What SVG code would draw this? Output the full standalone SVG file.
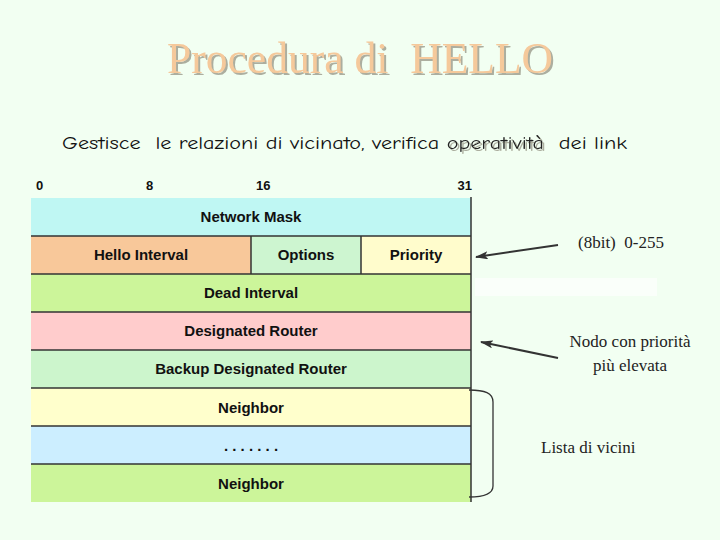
<svg xmlns="http://www.w3.org/2000/svg" width="720" height="540" viewBox="0 0 720 540">
<style>
text{white-space:pre}
.f{font-family:"Liberation Sans",Arial,sans-serif;font-weight:bold;font-size:15px;fill:#111;text-anchor:middle}
.b{font-family:"Liberation Sans",Arial,sans-serif;font-weight:bold;font-size:13px;fill:#111}
.s{font-family:"Liberation Serif","Times New Roman",serif;font-size:17px;fill:#222}
.row{stroke:none}
.sep{stroke:#333;stroke-width:1.5}
.con{stroke:#333;stroke-width:2;fill:none}
</style>
<defs>
<marker id="ah" markerWidth="13" markerHeight="8" refX="12" refY="4" orient="auto" markerUnits="userSpaceOnUse">
<path d="M0,0 L13,4 L0,8 L3,4 Z" fill="#333"/>
</marker>
<filter id="sh" x="-5%" y="-20%" width="110%" height="140%">
<feDropShadow dx="2" dy="2" stdDeviation="0.6" flood-color="#9a9a8a" flood-opacity="0.8"/>
</filter>
</defs>
<rect x="0" y="0" width="720" height="540" fill="#f2fff2"/>
<rect x="475" y="278" width="182" height="18" fill="#ffffff" opacity="0.6"/>
<g id="title">
<text x="167" y="73" textLength="386" lengthAdjust="spacingAndGlyphs" font-family="Liberation Serif,'Times New Roman',serif" font-size="45" fill="#f5c99b" filter="url(#sh)" xml:space="preserve">Procedura di  HELLO</text>
</g>
<g id="subtitle" font-family="'Comic Neue','DejaVu Sans',sans-serif" font-size="17" fill="#111">
<text x="62" y="149" textLength="565" lengthAdjust="spacingAndGlyphs" xml:space="preserve">Gestisce  le relazioni di vicinato, verifica <tspan fill="#222" filter="url(#sh)">operatività</tspan>  dei link</text>
</g>
<g id="bits">
<text class="b" x="36" y="190">0</text>
<text class="b" x="146" y="190">8</text>
<text class="b" x="256" y="190">16</text>
<text class="b" x="472" y="190" text-anchor="end">31</text>
</g>
<g id="network-mask"><rect class="row" x="31" y="198" width="440" height="38" fill="#bff7f3"/><text class="f" x="251" y="222">Network Mask</text></g>
<g id="hello-interval"><rect class="row" x="31" y="236" width="220" height="38" fill="#f8c89a"/><text class="f" x="141" y="260">Hello Interval</text></g>
<g id="options"><rect class="row" x="251" y="236" width="110" height="38" fill="#cdf5d0"/><text class="f" x="306" y="260">Options</text></g>
<g id="priority"><rect class="row" x="361" y="236" width="110" height="38" fill="#fffccc"/><text class="f" x="416" y="260">Priority</text></g>
<g id="dead-interval"><rect class="row" x="31" y="274" width="440" height="38" fill="#ccf59a"/><text class="f" x="251" y="298">Dead Interval</text></g>
<g id="designated-router"><rect class="row" x="31" y="312" width="440" height="38" fill="#ffcccc"/><text class="f" x="251" y="336">Designated Router</text></g>
<g id="backup-dr"><rect class="row" x="31" y="350" width="440" height="38" fill="#ccf5cc"/><text class="f" x="251" y="374">Backup Designated Router</text></g>
<g id="neighbor1"><rect class="row" x="31" y="388" width="440" height="38" fill="#ffffcc"/><text class="f" x="251" y="413">Neighbor</text></g>
<g id="dots"><rect class="row" x="31" y="426" width="440" height="38" fill="#cceeff"/><text class="f" x="251" y="451">. . . . . . .</text></g>
<g id="neighbor2"><rect class="row" x="31" y="464" width="440" height="38" fill="#ccf59a"/><text class="f" x="251" y="489">Neighbor</text></g>
<g id="grid">
<line class="sep" x1="31" y1="236" x2="471" y2="236" stroke-width="2"/>
<line class="sep" x1="31" y1="274" x2="471" y2="274"/>
<line class="sep" x1="31" y1="312" x2="471" y2="312"/>
<line class="sep" x1="31" y1="350" x2="471" y2="350"/>
<line class="sep" x1="31" y1="388" x2="471" y2="388"/>
<line class="sep" x1="31" y1="426" x2="471" y2="426" stroke-width="2"/>
<line class="sep" x1="31" y1="464" x2="471" y2="464"/>
<line class="sep" x1="251" y1="236" x2="251" y2="274"/>
<line class="sep" x1="361" y1="236" x2="361" y2="274"/>
<line class="sep" x1="471" y1="197" x2="471" y2="502"/>
</g>
<g id="connectors">
<line class="con" x1="558" y1="245" x2="476" y2="257" marker-end="url(#ah)"/>
<line class="con" x1="558" y1="358" x2="481" y2="342" marker-end="url(#ah)"/>
<path d="M469,390 C485,390 493,393 493,402 L493,486 C493,494 485,497 469,497" fill="none" stroke="#333" stroke-width="1.3"/>
</g>
<g id="notes">
<text class="s" x="578" y="248" xml:space="preserve">(8bit)  0-255</text>
<text class="s" x="630" y="347" font-size="19" text-anchor="middle">Nodo con priorità</text>
<text class="s" x="630" y="371" font-size="19" text-anchor="middle">più elevata</text>
<text class="s" x="541" y="453" font-size="17.5">Lista di vicini</text>
</g>
</svg>
